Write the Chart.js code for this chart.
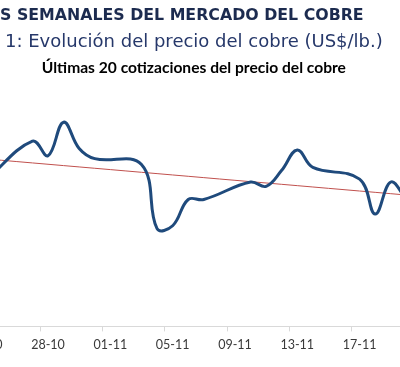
<!DOCTYPE html>
<html>
<head>
<meta charset="utf-8">
<script src="https://cdn.jsdelivr.net/npm/chart.js@4/dist/chart.umd.min.js"></script>
<style>
  body { margin: 0; background: #fff; }
  #wrap { position: relative; width: 400px; height: 367px; overflow: hidden; background: #fff; }
  .t { position: absolute; white-space: nowrap; font-family: "DejaVu Sans", Verdana, sans-serif; line-height: 1; }
  #t1 { left: 0; top: 7px; font-size: 15.8px; font-weight: bold; color: #1c2b4f; }
  #t2 { left: 5px; top: 32px; font-size: 18px; color: #26386a; }
  #box { position: absolute; left: -60px; top: 0; width: 520px; height: 367px; }
</style>
</head>
<body>
<div id="wrap">
  <div id="box"><canvas id="chart"></canvas></div>
  <div class="t" id="t1">S SEMANALES DEL MERCADO DEL COBRE</div>
  <div class="t" id="t2">1: Evolución del precio del cobre (US$/lb.)</div>
</div>
<script>
// dias corridos del eje (24-10 al 21-11), null = sin cotizacion
const dias = ["24-10", "25-10", "26-10", "27-10", "28-10", "29-10", "30-10", "31-10",
  "01-11", "02-11", "03-11", "04-11", "05-11", "06-11", "07-11", "08-11", "09-11",
  "10-11", "11-11", "12-11", "13-11", "14-11", "15-11", "16-11", "17-11", "18-11",
  "19-11", "20-11", "21-11"];

const precio = [3.060, null, null, 3.087, 3.077, 3.100, 3.082, 3.075,
  null, null, 3.071, 3.027, 3.029, 3.047, 3.047, null, null,
  3.059, 3.056, 3.067, 3.081, 3.069, null, null, 3.061, 3.037,
  3.059, 3.047, null];

const titulo = "Últimas 20 cotizaciones del precio del cobre";

// tendencia lineal (minimos cuadrados sobre los dias)
const pts = [];
precio.forEach((v, i) => { if (v !== null) pts.push([i, v]); });
const n = pts.length;
const mx = pts.reduce((s, p) => s + p[0], 0) / n;
const my = pts.reduce((s, p) => s + p[1], 0) / n;
let sxy = 0, sxx = 0;
pts.forEach(p => { sxy += (p[0] - mx) * (p[1] - my); sxx += (p[0] - mx) * (p[0] - mx); });
const pend = sxy / sxx;
const primero = pts[0][0], ultimo = pts[n - 1][0];
const tendencia = dias.map((d, i) => (i >= primero && i <= ultimo) ? my + pend * (i - mx) : null);

new Chart(document.getElementById("chart"), {
  type: "line",
  data: {
    labels: dias,
    datasets: [
      {
        label: "Precio",
        data: precio,
        borderColor: "#1f4a7c",
        borderWidth: 3,
        tension: 0.4,
        pointRadius: 0,
        spanGaps: true,
        fill: false,
      },
      {
        label: "Tendencia",
        data: tendencia,
        borderColor: "#c0504d",
        borderWidth: 1,
        pointRadius: 0,
        spanGaps: true,
        fill: false,
      },
    ],
  },
  options: {
    responsive: true,
    maintainAspectRatio: false,
    animation: false,
    layout: { padding: { left: 18, right: 30.3, top: 0, bottom: 8.6 } },
    plugins: {
      legend: { display: false },
      tooltip: { enabled: false },
      title: {
        display: true,
        text: titulo,
        color: "#000",
        font: { family: "Lato", size: 15.6, weight: "bold" },
        padding: { top: 58.6, bottom: 15.7 },
      },
    },
    scales: {
      x: {
        offset: true,
        grid: {
          offset: true,
          drawOnChartArea: false,
          tickLength: 5,
          color: (ctx) => (ctx.index % 4 === 0 ? "#d9d9d9" : "rgba(0,0,0,0)"),
        },
        border: { color: "#d9d9d9" },
        ticks: {
          autoSkip: false,
          maxRotation: 0,
          padding: 6,
          color: "#3a3a3a",
          font: { family: "Lato", size: 12.5 },
          callback: (v, i) => (i % 4 === 0 ? dias[i] : ""),
        },
      },
      y: {
        min: 2.96,
        max: 3.12,
        grid: { display: false },
        border: { display: false },
        ticks: { display: false },
        afterFit: (s) => { s.width = 19.9; },
      },
    },
  },
});
</script>
</body>
</html>
